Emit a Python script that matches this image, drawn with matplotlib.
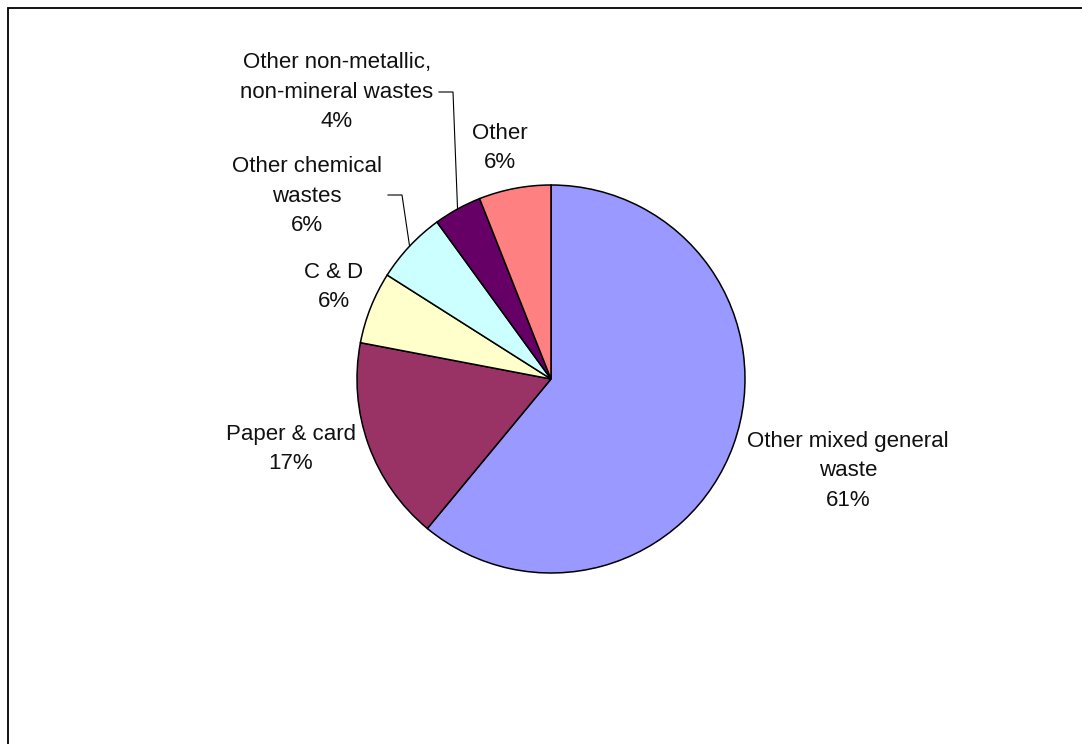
import matplotlib
matplotlib.use("Agg")
import matplotlib.pyplot as plt
from matplotlib.patches import Rectangle
import numpy as np

plt.rcParams['font.family'] = ['Liberation Sans', 'DejaVu Sans']

# Waste composition shares (percent)
categories = ["Other mixed general\nwaste", "Paper & card", "C & D",
              "Other chemical\nwastes", "Other non-metallic,\nnon-mineral wastes", "Other"]
values = [61, 17, 6, 6, 4, 6]
colors = ["#9999FF", "#993366", "#FFFFCC", "#CCFFFF", "#660066", "#FF8080"]

W, H = 1082, 744
fig = plt.figure(figsize=(W / 100, H / 100), dpi=100)

# outer chart-area frame (runs off the right and bottom edges)
fig.patches.append(Rectangle((8 / W, -0.05), 1.2, 1 - 8 / H + 0.05, transform=fig.transFigure,
                             fill=False, edgecolor="black", linewidth=1.3))

cx, cy, r = 551, 379, 194
ax = fig.add_axes([(cx - r) / W, (H - cy - r) / H, 2 * r / W, 2 * r / H])
wedges, _ = ax.pie(values, colors=colors, startangle=90, counterclock=False, radius=1,
                   wedgeprops=dict(edgecolor="black", linewidth=1.1))
ax.set_xlim(-1, 1)
ax.set_ylim(-1, 1)
ax.set_aspect("equal")
ax.axis("off")

# label anchor points in figure pixels (x from left, y from top)
label_px = [(848, 471), (291, 449), (334, 287), (307, 196), (337, 92), (500, 148)]

for name, v, (px, py) in zip(categories, values, label_px):
    fig.text(px / W, 1 - py / H, f"{name}\n{v}%", ha="center", va="center",
             fontsize=16, linespacing=1.55, color="#111111")

# leader lines for the two crowded labels
def edge_point(i):
    cum = np.cumsum([0] + values)
    mid = (cum[i] + cum[i + 1]) / 2 / sum(values)
    ang = np.deg2rad(90 - 360 * mid)
    return cx + r * np.cos(ang), cy - r * np.sin(ang)

leaders = {3: (388, 195, 402), 4: (439, 92, 453)}
for i, (x0, y0, xk) in leaders.items():
    ex, ey = edge_point(i)
    xs = [x0 / W, xk / W, ex / W]
    ys = [1 - y0 / H, 1 - y0 / H, 1 - ey / H]
    fig.add_artist(plt.Line2D(xs, ys, transform=fig.transFigure, color="black", linewidth=0.8))

fig.savefig("out.png", dpi=100, facecolor="white")
